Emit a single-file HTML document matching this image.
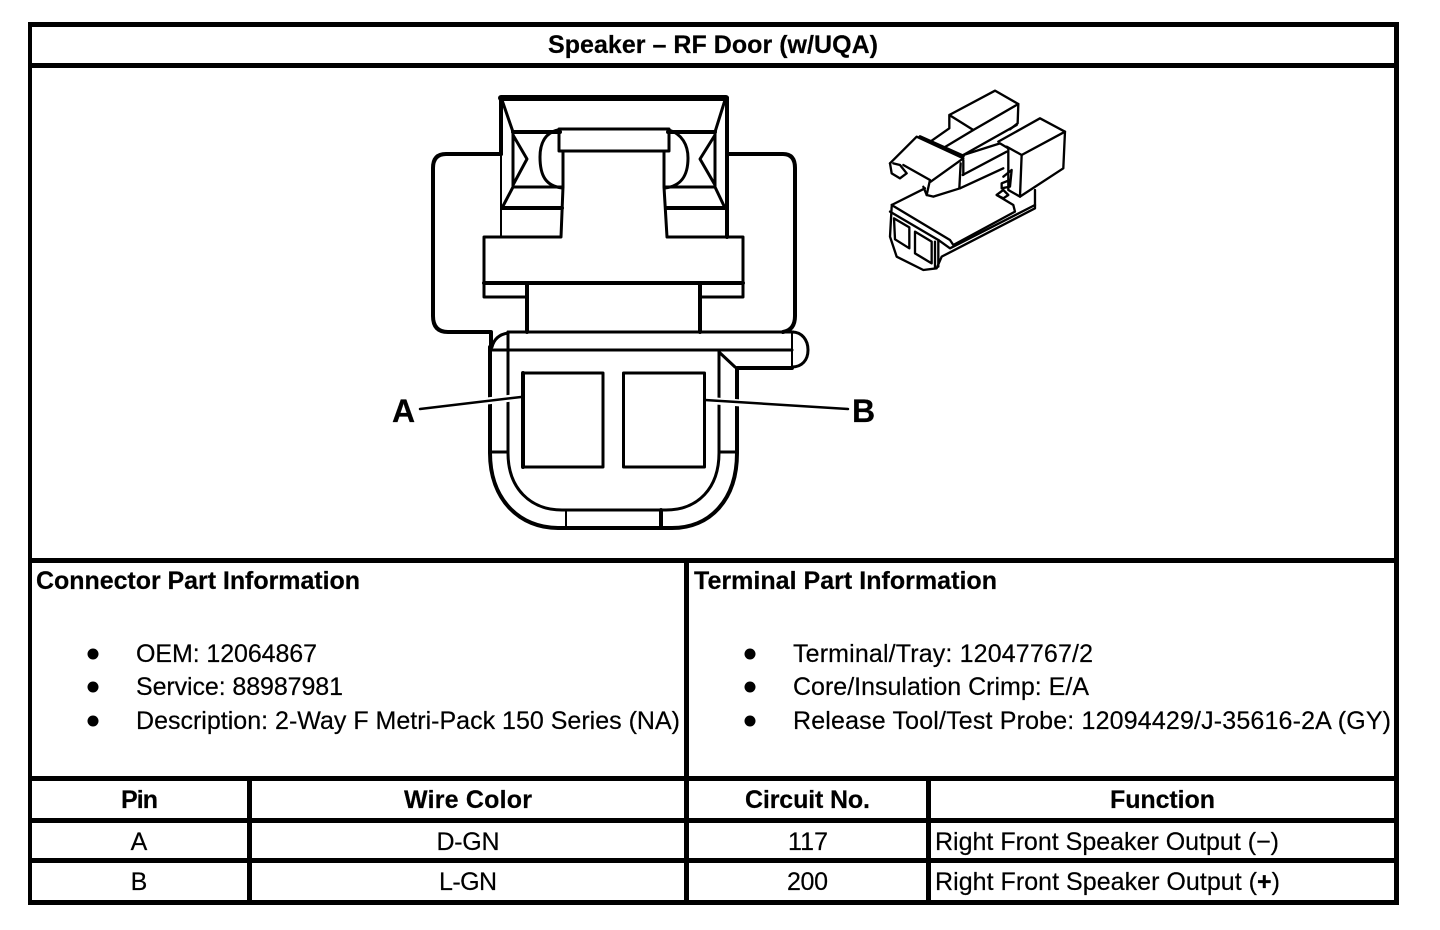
<!DOCTYPE html>
<html lang="en">
<head>
<meta charset="utf-8">
<title>Speaker – RF Door (w/UQA)</title>
<style>
html,body{margin:0;padding:0;background:#fff;width:1440px;height:930px;overflow:hidden}
svg{display:block}
text{font-family:"Liberation Sans",Arial,sans-serif;font-size:25px;fill:#000;stroke:#000;stroke-width:.2px}
.b{font-weight:700}
.c{text-anchor:middle}
</style>
</head>
<body>
<svg width="1440" height="930" viewBox="0 0 1440 930" xmlns="http://www.w3.org/2000/svg">
<rect width="1440" height="930" fill="#fff"/>
<!-- table grid -->
<g fill="#000">
<rect x="28" y="22" width="1371" height="5"/>
<rect x="28" y="900" width="1371" height="5"/>
<rect x="28" y="22" width="4" height="883"/>
<rect x="1394" y="22" width="5" height="883"/>
<rect x="28" y="63" width="1371" height="5"/>
<rect x="28" y="558" width="1371" height="5"/>
<rect x="28" y="776" width="1371" height="5"/>
<rect x="28" y="818" width="1371" height="5"/>
<rect x="28" y="858" width="1371" height="5"/>
<rect x="247" y="776" width="5" height="129"/>
<rect x="684" y="558" width="5" height="347"/>
<rect x="926" y="776" width="5" height="129"/>
</g>
<!-- connector front view -->
<g fill="none" stroke="#000" stroke-width="3" stroke-linejoin="round" stroke-linecap="round">
<path d="M501 154H446Q433 154 433 168V316Q433 332 448 332H491V347" stroke-width="4"/>
<path d="M727 154H783Q795 154 795 168V316Q795 330 783 332" stroke-width="4"/>
<path d="M501 98H726" stroke-width="6"/>
<path d="M501 98V154" stroke-width="4"/>
<path d="M501 154V237" stroke-width="2"/>
<path d="M727 98V237" stroke-width="4"/>
<path d="M502 100L513 132V187L502 208"/>
<path d="M725 100L715 132V187L725 208"/>
<path d="M513 132H560M668 132H715" stroke-width="4"/>
<path d="M513 187H563M665 187H715"/>
<path d="M502 208H562M667 208H725" stroke-width="4"/>
<rect x="559" y="129" width="110" height="22"/>
<path d="M558 130C544 133 540 145 540 157C540 176 546 186 562 188"/>
<path d="M669 130C682 134 688 145 688 158C688 176 681 186 665 188"/>
<path d="M513 135L527 159L513 185"/>
<path d="M715 135L700 159L715 185"/>
<path d="M563 151V187L561 237H484V297H527"/>
<path d="M664 151V187L667 237H743V297H700"/>
<path d="M484 283H743" stroke-width="4"/>
<path d="M527 283V332M700 283V332" stroke-width="4"/>
<!-- lower shell -->
<path d="M508 332H793" stroke-width="3"/>
<path d="M492 350H792" stroke-width="3"/>
<path d="M490 347V453C490 500 520 528 558 528H672C710 528 737 500 737 453V368H792" stroke-width="4"/>
<path d="M508 332V453C508 488 530 510 562 510H666C698 510 719 488 719 453V352" stroke-width="3"/>
<path d="M492 347Q495 335 508 333"/>
<path d="M719 352L735 367"/>
<path d="M792 332C802 332 808 340 808 350C808 360 802 367 792 367" stroke-width="3"/>
<path d="M792 332V367" stroke-width="2"/>
<path d="M491 452H508M720 452H737"/>
<path d="M566 510V528" stroke-width="2"/>
<path d="M661 510V528" stroke-width="4"/>
<rect x="523" y="373" width="80" height="94" stroke-width="3"/>
<path d="M523 373V467" stroke-width="4"/>
<rect x="623.500" y="373" width="81" height="94" stroke-width="3"/>
<!-- leaders -->
<path d="M487 401L512 398M716 401L741 403" stroke="#fff" stroke-width="7" stroke-linecap="butt"/>
<path d="M420 409L521 397" stroke-width="2.500"/>
<path d="M705 400L848 409" stroke-width="2.500"/>
</g>
<text x="392" y="422" class="b" style="font-size:32px">A</text>
<text x="852" y="422" class="b" style="font-size:32px">B</text>
<!-- 3D connector -->
<g transform="translate(870 80) scale(.3333)" fill="none" stroke="#000" stroke-width="7" stroke-linejoin="round" stroke-linecap="round">
<path d="M238 105L375 32L445 72L310 150L238 105V145L185 182"/>
<path d="M445 72L443 130L420 148"/>
<path d="M310 150L222 203"/>
<path d="M280 225L440 135"/>
<path d="M385 185L510 115L585 155L580 265L450 350L415 330V205"/>
<path d="M410 200L455 225L585 155"/>
<path d="M455 225L450 350"/>
<path d="M280 225L390 190L415 205"/>
<path d="M278 285L410 215"/>
<path d="M270 325L400 265"/>
<path d="M272 250L268 325"/>
<path d="M280 240V285"/>
<path d="M60 250L140 170L280 235L182 305"/>
<path d="M150 170L280 228" stroke-width="9"/>
<path d="M60 250L65 280L90 295L110 280L90 255L70 250"/>
<path d="M100 255L180 300L170 345L190 350L270 325"/>
<path d="M160 320L170 345"/>
<path d="M65 375L165 325"/>
<path d="M65 375L240 480L250 495L435 395L430 375L380 345"/>
<path d="M65 380L60 470L80 530L160 570L200 565L215 530L495 385V330"/>
<path d="M60 395L205 480L240 505L495 375"/>
<path d="M195 485V565"/>
<path d="M205 480V560"/>
<path d="M72 415L118 442V505L75 478Z"/>
<path d="M135 455L185 485V550L135 520Z"/>
<path d="M400 290L425 270L420 320L395 325V310L420 300"/>
<path d="M380 345L400 330L415 345L400 355Z"/>
</g>
<!-- text -->
<text x="713" y="53" class="b c" textLength="330">Speaker – RF Door (w/UQA)</text>
<text x="36" y="589" class="b" textLength="324">Connector Part Information</text>
<text x="694" y="589" class="b" textLength="303">Terminal Part Information</text>
<g fill="#000">
<circle cx="93" cy="654" r="5.500"/><circle cx="93" cy="687" r="5.500"/><circle cx="93" cy="721" r="5.500"/>
<circle cx="750" cy="654" r="5.500"/><circle cx="750" cy="687" r="5.500"/><circle cx="750" cy="721" r="5.500"/>
</g>
<text x="136" y="662" textLength="181">OEM: 12064867</text>
<text x="136" y="695" textLength="207">Service: 88987981</text>
<text x="136" y="729" textLength="544">Description: 2-Way F Metri-Pack 150 Series (NA)</text>
<text x="793" y="662" textLength="300">Terminal/Tray: 12047767/2</text>
<text x="793" y="695" textLength="296">Core/Insulation Crimp: E/A</text>
<text x="793" y="729" textLength="598">Release Tool/Test Probe: 12094429/J-35616-2A (GY)</text>
<text x="139.500" y="808" class="b c" textLength="37">Pin</text>
<text x="468" y="808" class="b c" textLength="128">Wire Color</text>
<text x="807.500" y="808" class="b c" textLength="125">Circuit No.</text>
<text x="1162.500" y="808" class="b c" textLength="105">Function</text>
<text x="139" y="850" class="c">A</text>
<text x="468" y="850" class="c" textLength="63">D-GN</text>
<text x="808" y="850" class="c" textLength="40">117</text>
<text x="935" y="850" textLength="344">Right Front Speaker Output (−)</text>
<text x="139" y="890" class="c">B</text>
<text x="468" y="890" class="c" textLength="58">L-GN</text>
<text x="807.500" y="890" class="c" textLength="41">200</text>
<text x="935" y="890" textLength="345">Right Front Speaker Output (<tspan class="b">+</tspan>)</text>
</svg>
</body>
</html>
